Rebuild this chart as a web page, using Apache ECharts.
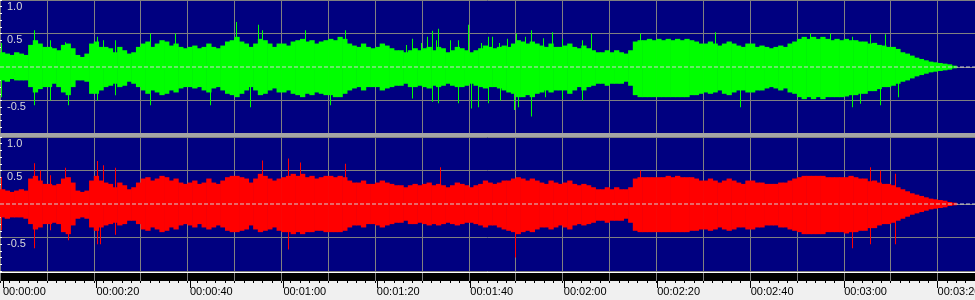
<!DOCTYPE html>
<html>
<head>
<meta charset="utf-8">
<script src="https://cdn.jsdelivr.net/npm/echarts@6/dist/echarts.min.js"></script>
<style>
html,body{margin:0;padding:0;background:#f0f0f0;overflow:hidden;width:975px;height:300px;}
#chart{width:1020px;height:300px;}
</style>
</head>
<body>
<div id="chart"></div>
<script>
// ---- data (seconds per column = 1) ----
const STEP = 1;
const DURATION = 208;
const timeLabels = ['00:00:00','00:00:20','00:00:40','00:01:00','00:01:20','00:01:40','00:02:00','00:02:20','00:02:40','00:03:00','00:03:20'];
const ampLabels = {'1': '1.0', '0.5': '0.5', '0': '0.0', '-0.5': '-0.5'};

// left (green) channel envelope per second
const leftMax = [
0.22,0.2,0.18,0.22,0.2,0.18,0.33,0.4,0.35,0.3,
0.3,0.28,0.25,0.33,0.35,0.28,0.18,0.15,0.2,0.35,
0.38,0.3,0.3,0.28,0.22,0.3,0.25,0.2,0.22,0.3,
0.35,0.38,0.3,0.35,0.4,0.38,0.32,0.35,0.3,0.28,
0.3,0.32,0.28,0.3,0.35,0.3,0.28,0.32,0.38,0.4,
0.45,0.38,0.35,0.3,0.35,0.42,0.4,0.35,0.3,0.35,
0.35,0.32,0.38,0.4,0.42,0.38,0.4,0.35,0.38,0.4,
0.42,0.4,0.45,0.42,0.35,0.32,0.3,0.35,0.3,0.28,
0.3,0.35,0.32,0.28,0.25,0.25,0.22,0.25,0.28,0.25,
0.28,0.3,0.25,0.3,0.28,0.22,0.25,0.3,0.28,0.25,
0.22,0.25,0.28,0.32,0.3,0.28,0.3,0.32,0.3,0.35,
0.4,0.38,0.35,0.38,0.35,0.32,0.3,0.35,0.3,0.3,
0.32,0.35,0.3,0.28,0.32,0.28,0.25,0.22,0.22,0.25,
0.22,0.25,0.22,0.2,0.25,0.38,0.4,0.4,0.42,0.4,
0.42,0.4,0.42,0.4,0.42,0.4,0.42,0.4,0.38,0.35,
0.35,0.38,0.35,0.32,0.35,0.38,0.35,0.32,0.3,0.35,
0.35,0.3,0.32,0.3,0.28,0.3,0.32,0.3,0.35,0.38,
0.42,0.45,0.42,0.45,0.42,0.45,0.42,0.4,0.42,0.4,
0.42,0.4,0.4,0.38,0.38,0.35,0.36,0.33,0.32,0.3,
0.3,0.27,0.22,0.2,0.17,0.14,0.12,0.1,0.08,0.07,
0.06,0.05,0.04,0.02
];
const leftMin = [
-0.2,-0.22,-0.18,-0.2,-0.2,-0.2,-0.3,-0.38,-0.33,-0.3,
-0.3,-0.25,-0.3,-0.38,-0.42,-0.3,-0.2,-0.2,-0.22,-0.4,
-0.4,-0.35,-0.3,-0.28,-0.25,-0.3,-0.28,-0.22,-0.25,-0.3,
-0.35,-0.4,-0.35,-0.38,-0.42,-0.4,-0.35,-0.38,-0.32,-0.3,
-0.3,-0.32,-0.3,-0.35,-0.38,-0.32,-0.3,-0.35,-0.4,-0.42,
-0.45,-0.4,-0.35,-0.3,-0.35,-0.42,-0.4,-0.35,-0.32,-0.38,
-0.38,-0.35,-0.4,-0.42,-0.45,-0.4,-0.42,-0.38,-0.4,-0.42,
-0.42,-0.45,-0.45,-0.4,-0.35,-0.32,-0.3,-0.35,-0.3,-0.3,
-0.3,-0.35,-0.32,-0.3,-0.28,-0.28,-0.25,-0.3,-0.3,-0.28,
-0.3,-0.32,-0.28,-0.3,-0.28,-0.25,-0.28,-0.3,-0.3,-0.28,
-0.25,-0.28,-0.3,-0.32,-0.3,-0.3,-0.32,-0.35,-0.38,-0.4,
-0.45,-0.45,-0.42,-0.45,-0.4,-0.38,-0.35,-0.38,-0.35,-0.35,
-0.35,-0.4,-0.35,-0.3,-0.35,-0.3,-0.28,-0.25,-0.25,-0.28,
-0.25,-0.25,-0.25,-0.22,-0.28,-0.42,-0.45,-0.45,-0.45,-0.45,
-0.45,-0.45,-0.45,-0.45,-0.45,-0.45,-0.45,-0.42,-0.42,-0.4,
-0.38,-0.4,-0.38,-0.35,-0.4,-0.42,-0.38,-0.35,-0.35,-0.38,
-0.38,-0.35,-0.35,-0.32,-0.3,-0.32,-0.35,-0.32,-0.38,-0.4,
-0.45,-0.48,-0.45,-0.48,-0.45,-0.48,-0.45,-0.45,-0.45,-0.45,
-0.44,-0.42,-0.42,-0.4,-0.4,-0.36,-0.36,-0.33,-0.3,-0.3,
-0.28,-0.25,-0.22,-0.2,-0.17,-0.14,-0.12,-0.1,-0.08,-0.07,
-0.06,-0.05,-0.04,-0.02
];
// right (red) channel envelope per second
const rightMax = [
0.22,0.2,0.18,0.2,0.22,0.2,0.38,0.42,0.35,0.3,
0.3,0.28,0.3,0.38,0.4,0.32,0.2,0.18,0.2,0.35,
0.42,0.35,0.32,0.3,0.25,0.32,0.28,0.22,0.25,0.32,
0.38,0.4,0.35,0.38,0.42,0.4,0.35,0.38,0.32,0.3,
0.32,0.35,0.3,0.32,0.38,0.32,0.3,0.35,0.4,0.42,
0.42,0.4,0.38,0.32,0.38,0.45,0.42,0.38,0.35,0.38,
0.4,0.42,0.45,0.42,0.45,0.4,0.42,0.38,0.4,0.42,
0.42,0.4,0.42,0.4,0.35,0.32,0.32,0.35,0.3,0.3,
0.32,0.35,0.32,0.3,0.28,0.28,0.25,0.28,0.3,0.28,
0.3,0.32,0.28,0.3,0.28,0.25,0.28,0.32,0.3,0.28,
0.25,0.28,0.3,0.35,0.32,0.3,0.32,0.35,0.35,0.38,
0.4,0.38,0.35,0.38,0.35,0.32,0.3,0.35,0.32,0.3,
0.32,0.35,0.3,0.28,0.3,0.28,0.25,0.22,0.22,0.25,
0.22,0.25,0.22,0.22,0.25,0.38,0.4,0.4,0.4,0.4,
0.4,0.4,0.42,0.4,0.42,0.4,0.4,0.4,0.38,0.35,
0.35,0.38,0.35,0.32,0.35,0.38,0.35,0.32,0.3,0.35,
0.35,0.32,0.32,0.3,0.3,0.3,0.32,0.32,0.35,0.38,
0.4,0.42,0.42,0.42,0.42,0.42,0.4,0.4,0.4,0.4,
0.4,0.42,0.4,0.38,0.38,0.34,0.35,0.32,0.3,0.3,
0.28,0.25,0.22,0.19,0.16,0.14,0.12,0.1,0.08,0.07,
0.06,0.05,0.03,0.02
];
const rightMin = [
-0.2,-0.22,-0.2,-0.2,-0.2,-0.22,-0.3,-0.38,-0.35,-0.3,
-0.3,-0.28,-0.3,-0.42,-0.45,-0.32,-0.22,-0.2,-0.22,-0.35,
-0.4,-0.35,-0.32,-0.3,-0.28,-0.32,-0.3,-0.25,-0.25,-0.3,
-0.38,-0.4,-0.35,-0.38,-0.42,-0.4,-0.35,-0.38,-0.32,-0.3,
-0.32,-0.35,-0.3,-0.35,-0.38,-0.35,-0.32,-0.35,-0.4,-0.42,
-0.42,-0.4,-0.38,-0.32,-0.38,-0.42,-0.4,-0.38,-0.35,-0.4,
-0.42,-0.42,-0.45,-0.42,-0.45,-0.42,-0.42,-0.4,-0.4,-0.42,
-0.42,-0.42,-0.42,-0.4,-0.35,-0.32,-0.32,-0.35,-0.3,-0.3,
-0.32,-0.35,-0.32,-0.3,-0.28,-0.28,-0.25,-0.3,-0.3,-0.28,
-0.3,-0.32,-0.3,-0.32,-0.3,-0.28,-0.3,-0.32,-0.3,-0.28,
-0.28,-0.3,-0.32,-0.35,-0.32,-0.32,-0.35,-0.38,-0.4,-0.42,
-0.45,-0.42,-0.4,-0.42,-0.38,-0.35,-0.35,-0.38,-0.35,-0.32,
-0.35,-0.38,-0.32,-0.3,-0.32,-0.3,-0.28,-0.25,-0.25,-0.28,
-0.25,-0.25,-0.25,-0.22,-0.28,-0.4,-0.42,-0.42,-0.42,-0.42,
-0.42,-0.42,-0.42,-0.42,-0.42,-0.42,-0.42,-0.4,-0.4,-0.38,
-0.38,-0.4,-0.38,-0.35,-0.38,-0.4,-0.38,-0.35,-0.35,-0.38,
-0.38,-0.35,-0.35,-0.32,-0.32,-0.32,-0.35,-0.35,-0.38,-0.4,
-0.42,-0.45,-0.45,-0.45,-0.45,-0.45,-0.42,-0.42,-0.42,-0.42,
-0.44,-0.42,-0.42,-0.4,-0.4,-0.36,-0.36,-0.32,-0.3,-0.3,
-0.28,-0.25,-0.22,-0.19,-0.16,-0.14,-0.12,-0.1,-0.08,-0.07,
-0.06,-0.05,-0.03,-0.02
];
// isolated peaks [second, amplitude]
const leftPeaks = [
[0.2,0.36],[0.2,-0.45],[7.25,0.55],[7.25,-0.57],[10.67,0.4],[10.67,-0.5],[13.87,0.37],[14.5,-0.57],
[20.7,0.45],[20.7,-0.5],[21.97,0.4],[24.5,0.4],[24.5,-0.42],[32,0.5],[32,-0.57],[37.3,0.5],[44.8,-0.57],
[50.3,0.67],[53.3,-0.6],[55,0.63],[55.9,0.55],[65,0.55],[70.4,-0.57],[73.6,0.55],
[86.6,0.33],[87.9,0.42],[87.9,-0.47],[89.8,0.36],[91.1,0.45],[92.2,0.54],[92.2,-0.52],[93,0.4],[93.4,0.57],[93.4,-0.54],
[96,0.4],[97.7,0.4],[97.7,-0.54],[99.8,0.63],[100.5,-0.62],[102,-0.6],[102.6,0.36],[104.1,0.45],[104.1,-0.54],[105,0.45],
[106.5,0.36],[106.7,-0.5],[108.2,0.42],[109.7,-0.64],[110.1,0.5],[110.5,-0.6],[112,0.45],[113.3,0.55],[113.3,-0.74],
[115.8,0.43],[116.3,-0.45],[117.8,0.52],[119.9,0.42],[119.9,-0.48],[124.2,0.4],[124.2,-0.5],[126.1,0.5],
[136.5,0.5],[152.5,0.52],[157.9,-0.6],[172.8,0.5],[177.1,0.5],
[181.8,0.45],[181.8,-0.6],[183.5,-0.55],[185.6,0.49],[187.7,-0.57],[188.8,0.49],[191.6,-0.45]
];
const rightPeaks = [
[0.2,0.4],[0.2,-0.39],[7.25,0.61],[7.25,-0.66],[8.53,0.5],[10.67,0.43],[10.67,-0.39],[13.87,0.54],[14.5,-0.54],
[20.7,0.64],[20.7,-0.6],[21.3,-0.6],[22,0.58],[24.5,0.54],[24.5,-0.46],
[55.9,0.65],[61.4,0.68],[61.4,-0.68],[64,0.62],[73.6,0.6],[93.9,0.55],[109.9,-0.8],[136.5,0.5],
[181.8,-0.66],[185.6,0.55],[185.6,-0.6],[187.7,0.5],[190.9,0.45],[190.9,-0.6]
];

// ---- chart ----
const GREEN = '#00ff00', RED = '#ff0000';
const BG = '#000080', GRIDC = '#808080';
const FONT = 'Liberation Sans, Arial, sans-serif';
const W = 975;

function colData(maxArr, minArr){ return maxArr.map((v,i)=>[i*STEP, minArr[i], v]); }
function colRenderer(color){
  return function(params, api){
    const t = api.value(0);
    const p1 = api.coord([t, api.value(2)]);
    const p2 = api.coord([t + STEP, api.value(1)]);
    return {type:'rect', shape:{x:p1[0], y:p1[1], width:p2[0]-p1[0]+0.6, height:p2[1]-p1[1]}, style:{fill:color}};
  };
}
function peakRenderer(color){
  return function(params, api){
    const p0 = api.coord([api.value(0), 0]);
    const p1 = api.coord([api.value(0), api.value(1)]);
    return {type:'rect', shape:{x:Math.round(p0[0]), y:Math.min(p0[1],p1[1]), width:1, height:Math.abs(p1[1]-p0[1])}, style:{fill:color}};
  };
}
function ampAxis(gi){
  return {gridIndex:gi, type:'value', min:-1, max:1, interval:0.5, position:'left',
    axisLine:{show:false},
    axisTick:{show:true, inside:true, length:2, lineStyle:{color:'#ffffff'}},
    minorTick:{show:true, splitNumber:5, length:2, lineStyle:{color:'#ffffff'}},
    minorSplitLine:{show:false},
    splitLine:{show:true, lineStyle:{color:GRIDC, width:1}},
    axisLabel:{inside:true, margin:7, color:'#d8d8d8', fontSize:11, fontFamily:FONT, verticalAlign:'top', padding:[1,0,0,0],
      formatter:(v)=> ampLabels[String(v)] || ''}
  };
}
function timeAxisPlain(gi){
  return {gridIndex:gi, type:'value', min:0, max:DURATION, interval:10,
    axisLine:{show:false}, axisTick:{show:false}, axisLabel:{show:false},
    splitLine:{show:true, lineStyle:{color:GRIDC, width:1}}};
}
function hiddenY(gi){ return {gridIndex:gi, type:'value', min:0, max:1, show:false}; }

const chart = echarts.init(document.getElementById('chart'), null, {renderer:'canvas'});
chart.setOption({
  backgroundColor:'#f0f0f0',
  animation:false,
  grid:[
    {left:0, top:0, width:W, height:134, show:true, backgroundColor:BG, borderWidth:0},
    {left:0, top:137, width:W, height:134, show:true, backgroundColor:BG, borderWidth:0},
    {left:0, top:273, width:W, height:8, show:true, backgroundColor:'#000000', borderWidth:0},
    {left:0, top:273, width:W, height:8, show:false},
    {left:0, top:273, width:W, height:8, show:false}
  ],
  xAxis:[
    timeAxisPlain(0),
    timeAxisPlain(1),
    timeAxisPlain(2),
    {gridIndex:3, type:'value', min:0, max:DURATION, interval:20, position:'bottom',
      axisLine:{show:false}, splitLine:{show:false},
      axisTick:{show:true, length:7, lineStyle:{color:'#000000'}},
      axisLabel:{show:true, color:'#000000', fontSize:11, fontFamily:FONT, align:'left', margin:5,
        hideOverlap:false, formatter:(v)=> timeLabels[Math.round(v/20)] || ''}},
    {gridIndex:4, type:'value', min:0, max:DURATION, interval:2, position:'bottom', offset:2,
      axisLine:{show:false}, splitLine:{show:false}, axisLabel:{show:false},
      axisTick:{show:true, length:2, lineStyle:{color:'#000000'}}}
  ],
  yAxis:[ampAxis(0), ampAxis(1), hiddenY(2), hiddenY(3), hiddenY(4)],
  graphic:[
    {type:'rect', shape:{x:0, y:133, width:W, height:4}, style:{fill:'#a4a4a4'}, z:100},
    {type:'rect', shape:{x:0, y:272, width:W, height:1}, style:{fill:'#ffffff'}, z:100}
  ],
  series:[
    {type:'custom', xAxisIndex:0, yAxisIndex:0, data:colData(leftMax, leftMin), renderItem:colRenderer(GREEN), z:2},
    {type:'custom', xAxisIndex:0, yAxisIndex:0, data:leftPeaks, renderItem:peakRenderer(GREEN), z:2},
    {type:'custom', xAxisIndex:1, yAxisIndex:1, data:colData(rightMax, rightMin), renderItem:colRenderer(RED), z:2},
    {type:'custom', xAxisIndex:1, yAxisIndex:1, data:rightPeaks, renderItem:peakRenderer(RED), z:2},
    {type:'line', xAxisIndex:0, yAxisIndex:0, data:[[0,0],[DURATION,0]], symbol:'none', silent:true,
      lineStyle:{color:'#d0d0d0', width:1, type:[4,2]}, z:5},
    {type:'line', xAxisIndex:1, yAxisIndex:1, data:[[0,0],[DURATION,0]], symbol:'none', silent:true,
      lineStyle:{color:'#d0d0d0', width:1, type:[4,2]}, z:5}
  ]
});
</script>
</body>
</html>
